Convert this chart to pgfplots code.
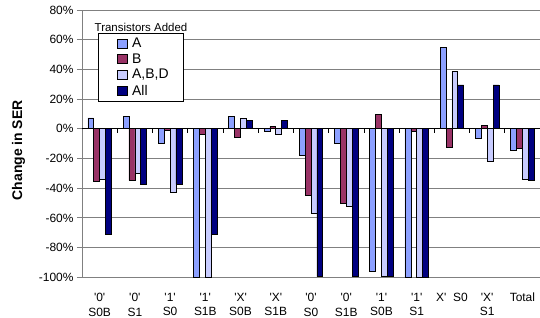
\documentclass[border=0pt]{standalone}
\usepackage{pgfplots}
\pgfplotsset{compat=1.18}
\usepackage{fontspec}
\setmainfont{Liberation Sans}
\definecolor{cA}{RGB}{140,160,255}
\definecolor{cB}{RGB}{153,51,102}
\definecolor{cABD}{RGB}{200,204,255}
\definecolor{cAll}{RGB}{0,0,128}
\definecolor{gridc}{RGB}{128,128,128}
\newcommand{\q}{\textquotesingle}
\newcommand{\legE}[1]{\hspace{3bp}\makebox[49bp][l]{#1}}
\begin{document}
\begin{tikzpicture}
\begin{axis}[
  scale only axis,
  width=458bp, height=267.3bp,
  at={(0,0)}, anchor=south west,
  xmin=-0.5, xmax=12.5,
  ymin=-100, ymax=80,
  ytick={-100,-80,...,80},
  yticklabels={-100\%,-80\%,-60\%,-40\%,-20\%,0\%,20\%,40\%,60\%,80\%},
  xtick={0,...,12},
  xticklabels={{\q0\q\\S0B},{\q0\q\\S1},{\q1\q\\S0},{\q1\q\\S1B},{\q X\q\\S0B},{\q X\q\\S1B},{\q0\q\\S0},{\q0\q\\S1B},{\q1\q\\S0B},{\q1\q\\S1},{X\q\ \ S0},{\q X\q\\S1},{Total}},
  xticklabel style={align=center, font=\fontsize{12}{14.5}\selectfont, yshift=-7.5bp},
  yticklabel style={font=\fontsize{12}{14}\selectfont},
  x tick style={draw=none},
  major tick length=5bp,
  tick align=outside,
  ytick pos=left, xtick pos=bottom,
  y tick style={gridc, line width=0.8bp},
  axis line style={draw=none},
  ymajorgrids,
  grid style={gridc, line width=0.8bp},
  ylabel={Change in SER},
  ylabel style={font=\fontsize{14}{16}\selectfont\bfseries, at={(axis description cs:-0.1383,0.475)}, anchor=center, rotate=0},
  ybar=0pt, bar width=5.87bp,
  every axis plot/.append style={draw=black, line width=0.6bp},
  legend image code/.code={\path[draw=none,fill=none] (-18.5bp,0) -- (10bp,0); \draw[#1] (0bp,-4.6bp) rectangle (10bp,4.6bp);},
  legend style={at={(axis description cs:0.0349,0.914)}, anchor=north west, draw=black, line width=0.8bp, fill=white,
    font=\fontsize{14}{15}\selectfont, inner xsep=0bp, inner ysep=2.5bp, row sep=0.6bp},
  legend cell align=left,
  clip=false,
]
\addplot[fill=cA] coordinates {(0,7.4) (1,8.5) (2,-10) (3,-100) (4,8.5) (5,-1.4) (6,-18) (7,-9.5) (8,-96) (9,-100) (10,54.7) (11,-6.6) (12,-14.5)};
\addplot[fill=cB] coordinates {(0,-35.6) (1,-34.7) (2,-1) (3,-3.4) (4,-5.4) (5,1.4) (6,-44.6) (7,-50) (8,9.5) (9,-1.4) (10,-12.2) (11,2.2) (12,-12.8)};
\addplot[fill=cABD] coordinates {(0,-34) (1,-30) (2,-42.6) (3,-100) (4,6.8) (5,-3.6) (6,-57) (7,-52.3) (8,-99) (9,-100) (10,38.5) (11,-21.9) (12,-34)};
\addplot[fill=cAll] coordinates {(0,-71) (1,-37.4) (2,-37.4) (3,-71) (4,5.6) (5,5.6) (6,-99.6) (7,-99) (8,-99) (9,-100) (10,29.5) (11,29.5) (12,-35)};
\legend{\legE{A},\legE{B},\legE{A,B,D},\legE{All}}
\draw[gridc, line width=0.8bp] (rel axis cs:0,0) -- (rel axis cs:0,1);
\draw[black, line width=0.8bp] (axis cs:-0.5,0) -- (axis cs:12.5,0);
\pgfplotsinvokeforeach{0.5,1.5,2.5,3.5,4.5,5.5,6.5,7.5,8.5,9.5,10.5,11.5}{
  \draw[black, line width=0.6bp] (axis cs:#1,0) -- ++(0bp,-4bp);
}
\node[font=\fontsize{11.5}{12}\selectfont] at (axis description cs:0.1288,0.9364) {Transistors Added};
\end{axis}
\pgfresetboundingbox
\path[use as bounding box] (-82bp,-40.7bp) rectangle (458bp,277.3bp);
\end{tikzpicture}
\end{document}
